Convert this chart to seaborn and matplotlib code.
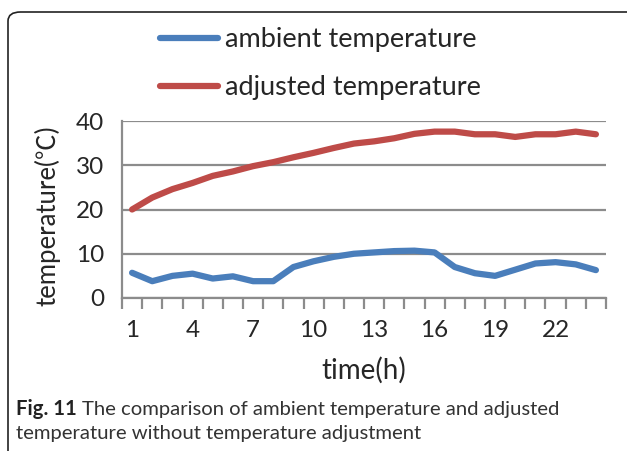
import matplotlib
matplotlib.use("Agg")
import matplotlib.pyplot as plt
from matplotlib.patches import FancyBboxPatch
import seaborn as sns
import pandas as pd
import numpy as np

hours = list(range(1, 25))
ambient = [5.7, 3.8, 5.0, 5.5, 4.4, 4.9, 3.8, 3.8, 7.0, 8.3, 9.3, 10.0,
           10.3, 10.6, 10.7, 10.3, 7.0, 5.6, 5.0, 6.4, 7.8, 8.1, 7.6, 6.3]
adjusted = [20.0, 22.7, 24.6, 26.0, 27.6, 28.6, 29.8, 30.7, 31.8, 32.8, 33.9, 34.9,
            35.4, 36.1, 37.1, 37.6, 37.6, 37.0, 37.0, 36.4, 37.0, 37.0, 37.6, 37.0]
series_names = ["ambient temperature", "adjusted temperature"]
x_tick_labels = ["1", "4", "7", "10", "13", "16", "19", "22"]
y_ticks = [0, 10, 20, 30, 40]

df = pd.DataFrame({
    "time": hours * 2,
    "temp": ambient + adjusted,
    "series": [series_names[0]] * 24 + [series_names[1]] * 24,
})

sns.set_style("white")
FONT = ["Lato", "Noto Sans CJK SC", "DejaVu Sans"]
plt.rcParams["font.family"] = FONT

W, H = 627, 451
fig = plt.figure(figsize=(W / 100, H / 100), dpi=100)
ax = fig.add_axes([122 / W, 1 - 298 / H, (606 - 122) / W, (298 - 121) / H])

palette = {series_names[0]: "#4A7EBB", series_names[1]: "#BE4B48"}
sns.lineplot(data=df, x="time", y="temp", hue="series", palette=palette,
             linewidth=4.5, ax=ax, legend=True, solid_capstyle="round")

grid_c = "#8C8C8C"
ax.set_xlim(0.5, 24.5)
ax.set_ylim(0, 40)
ax.set_yticks(y_ticks)
ax.yaxis.grid(True, color=grid_c, linewidth=1.6)
ax.set_axisbelow(True)
for s in ["top", "right"]:
    ax.spines[s].set_visible(False)
for s in ["left", "bottom"]:
    ax.spines[s].set_color(grid_c)
    ax.spines[s].set_linewidth(1.6)

TICK_FS = 17.5
ax.set_xticks([int(t) for t in x_tick_labels])
ax.set_xticklabels(x_tick_labels)
ax.set_xticks(np.arange(0.5, 25, 1), minor=True)
ax.tick_params(axis="x", which="major", length=0, pad=16, labelsize=TICK_FS)
ax.tick_params(axis="x", which="minor", length=8, width=1.6, color=grid_c, direction="out")
ax.tick_params(axis="y", which="major", length=8, width=1.6, color=grid_c, direction="out",
               labelsize=TICK_FS, pad=5)
ax.tick_params(axis="x", bottom=True, which="both")

ax.set_xlabel("time(h)", fontsize=20, labelpad=11)
ax.set_ylabel("temperature(℃)", fontsize=18.5, family=FONT)
ax.yaxis.set_label_coords(-0.128, 0.463)

h, l = ax.get_legend_handles_labels()
ax.legend(h, l, loc="upper left", bbox_to_anchor=(160 / W, 1 - 27 / H),
          bbox_transform=fig.transFigure, frameon=False, fontsize=19.5,
          handlelength=2.14, handletextpad=0.26, labelspacing=0.85, borderpad=0,
          borderaxespad=0)

frame = FancyBboxPatch((8 / W, -0.1), 1.2, 1.1 - 12 / H,
                       boxstyle="round,pad=0,rounding_size=0.02",
                       transform=fig.transFigure, fill=False, edgecolor="#222222",
                       linewidth=1.2, clip_on=False)
fig.patches.append(frame)

cap_fs = 14.6
cap_font = "Lato"
t1 = fig.text(16 / W, 1 - 409 / H, "Fig. 11", fontsize=cap_fs, fontweight="bold",
              family=cap_font, va="center", ha="left", color="#222222")
fig.canvas.draw()
bb = t1.get_window_extent(renderer=fig.canvas.get_renderer())
fig.text((bb.x1 + 5) / W, 1 - 409 / H,
         "The comparison of ambient temperature and adjusted",
         fontsize=cap_fs, family=cap_font, va="center", ha="left", color="#333333")
fig.text(16 / W, 1 - 433 / H, "temperature without temperature adjustment",
         fontsize=cap_fs, family=cap_font, va="center", ha="left", color="#333333")

fig.savefig("out.png", dpi=100)
